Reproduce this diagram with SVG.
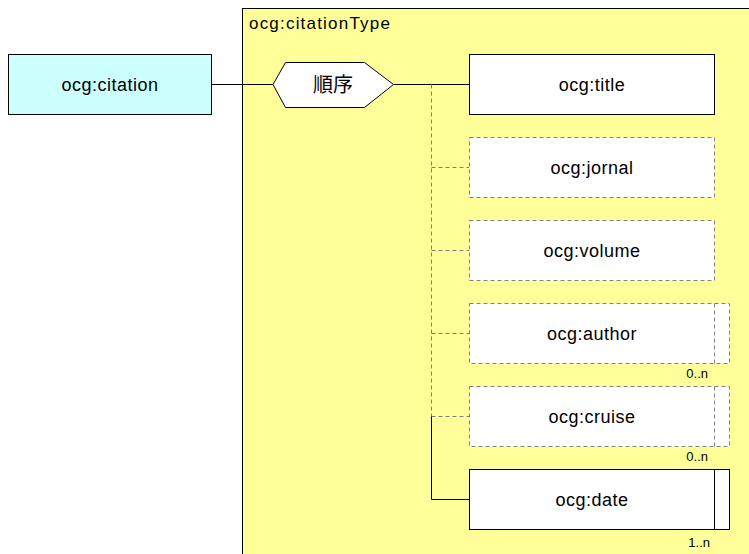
<svg xmlns="http://www.w3.org/2000/svg" width="749" height="554" viewBox="0 0 749 554">
<style>
text{font-family:"Liberation Sans","Noto Sans CJK JP",sans-serif;fill:#000}
.lbl{font-size:18px;text-anchor:middle;letter-spacing:0.5px}
.mult{font-size:13px;text-anchor:end}
.solid{fill:#fff;stroke:#000;stroke-width:1}
.dash{fill:#fff;stroke:#808080;stroke-width:1;stroke-dasharray:4,3}
.ln{stroke:#000;stroke-width:1;fill:none}
.dl{stroke:#808080;stroke-width:1;fill:none;stroke-dasharray:4,3}
</style>
<rect width="749" height="554" fill="#fff"/>
<g id="citationType">
<rect x="242.5" y="8.5" width="520" height="560" fill="#ffff99" stroke="#000"/>
<text x="249" y="29" style="font-size:17px;letter-spacing:1.2px">ocg:citationType</text>
</g>
<g id="connectors">
<line class="ln" x1="212" y1="84.5" x2="273" y2="84.5"/>
<line class="ln" x1="394" y1="84.5" x2="469" y2="84.5"/>
<line class="dl" x1="431.5" y1="84.5" x2="431.5" y2="416.5"/>
<line class="dl" x1="431.5" y1="167.5" x2="469" y2="167.5"/>
<line class="dl" x1="431.5" y1="250.5" x2="469" y2="250.5"/>
<line class="dl" x1="431.5" y1="333.5" x2="469" y2="333.5"/>
<line class="dl" x1="431.5" y1="416.5" x2="469" y2="416.5"/>
<polyline class="ln" points="431.5,416.5 431.5,499.5 469,499.5"/>
</g>
<g id="citation">
<rect x="8.5" y="54.5" width="203" height="60" fill="#ccffff" stroke="#000"/>
<text class="lbl" x="110" y="91">ocg:citation</text>
</g>
<g id="sequence">
<polygon points="273,84.5 285.5,62.5 364.5,62.5 393.5,84.5 364.5,107.5 285.5,107.5" fill="#fff" stroke="#000"/>
<text x="333" y="92" style="font-size:20px;text-anchor:middle">順序</text>
</g>
<g id="title">
<rect class="solid" x="469.5" y="54.5" width="245" height="60"/>
<text class="lbl" x="592" y="91">ocg:title</text>
</g>
<g id="jornal">
<rect class="dash" x="469.5" y="137.5" width="245" height="60"/>
<text class="lbl" x="592" y="174">ocg:jornal</text>
</g>
<g id="volume">
<rect class="dash" x="469.5" y="220.5" width="245" height="60"/>
<text class="lbl" x="592" y="257">ocg:volume</text>
</g>
<g id="author">
<rect class="dash" x="469.5" y="303.5" width="260" height="60"/>
<line class="dl" x1="714.5" y1="303.5" x2="714.5" y2="363.5"/>
<text class="lbl" x="592" y="340">ocg:author</text>
<text class="mult" x="708" y="378">0..n</text>
</g>
<g id="cruise">
<rect class="dash" x="469.5" y="386.5" width="260" height="60"/>
<line class="dl" x1="714.5" y1="386.5" x2="714.5" y2="446.5"/>
<text class="lbl" x="592" y="423">ocg:cruise</text>
<text class="mult" x="708" y="461">0..n</text>
</g>
<g id="date">
<rect class="solid" x="469.5" y="469.5" width="260" height="60"/>
<line class="ln" x1="714.5" y1="469.5" x2="714.5" y2="529.5"/>
<text class="lbl" x="592" y="506">ocg:date</text>
<text class="mult" x="710" y="547">1..n</text>
</g>
</svg>
